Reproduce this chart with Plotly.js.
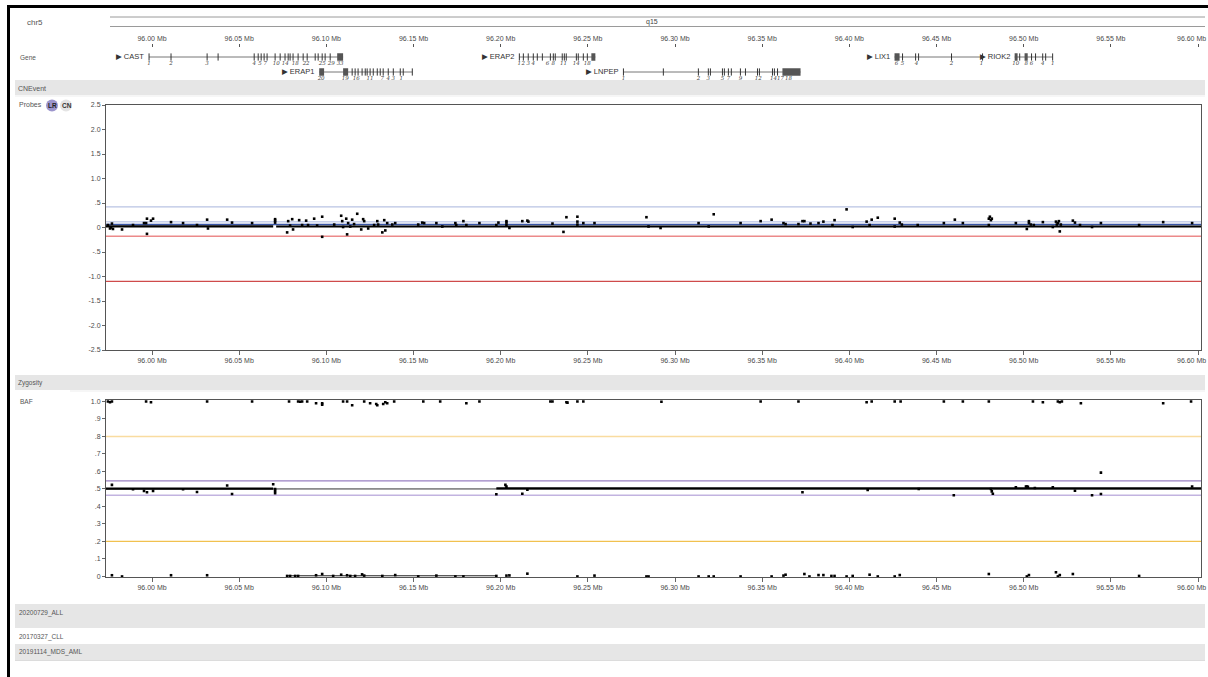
<!DOCTYPE html>
<html><head><meta charset="utf-8">
<script src="https://cdn.plot.ly/plotly-3.0.1.min.js"></script>
<style>html,body{margin:0;padding:0;background:#fff;}#chart{width:1208px;height:677px;}</style>
</head><body><div id="chart"></div><script>
// ---------- data ----------
const xRange = [95.9736, 96.6017];
const xTickVals = [96.00,96.05,96.10,96.15,96.20,96.25,96.30,96.35,96.40,96.45,96.50,96.55,96.60];
const xTickText = ["96.00 Mb","96.05 Mb","96.10 Mb","96.15 Mb","96.20 Mb","96.25 Mb","96.30 Mb","96.35 Mb","96.40 Mb","96.45 Mb","96.50 Mb","96.55 Mb","96.60 Mb"];
const lrTickVals = [2.5,2,1.5,1,0.5,0,-0.5,-1,-1.5,-2,-2.5];
const lrTickText = ["2.5","2.0","1.5","1.0",".5","0","-.5","-1.0","-1.5","-2.0","-2.5"];
const bafTickVals = [1,0.9,0.8,0.7,0.6,0.5,0.4,0.3,0.2,0.1,0];
const bafTickText = ["1.0",".9",".8",".7",".6",".5",".4",".3",".2",".1","0"];

const lrPos = [95.9747,95.9759,95.9765,95.9770,95.9776,95.9828,95.9891,95.9954,95.9966,95.9971,95.9971,95.9994,96.0006,96.0109,96.0178,96.0258,96.0316,96.0321,96.0431,96.0459,96.0574,96.0706,96.0706,96.0706,96.0775,96.0781,96.0792,96.0804,96.0809,96.0844,96.0861,96.0884,96.0895,96.0930,96.0947,96.0976,96.0976,96.1045,96.1085,96.1091,96.1096,96.1114,96.1119,96.1125,96.1137,96.1148,96.1159,96.1177,96.1200,96.1211,96.1217,96.1240,96.1274,96.1292,96.1297,96.1321,96.1332,96.1338,96.1349,96.1378,96.1395,96.1527,96.1550,96.1561,96.1631,96.1665,96.1740,96.1745,96.1786,96.1803,96.1878,96.1975,96.1987,96.2033,96.2033,96.2033,96.2050,96.2124,96.2153,96.2159,96.2297,96.2360,96.2377,96.2440,96.2440,96.2440,96.2474,96.2538,96.2836,96.2848,96.2917,96.3135,96.3193,96.3222,96.3376,96.3491,96.3554,96.3622,96.3634,96.3708,96.3731,96.3742,96.3777,96.3823,96.3851,96.3903,96.3915,96.3984,96.4019,96.4099,96.4116,96.4128,96.4163,96.4260,96.4260,96.4289,96.4301,96.4392,96.4542,96.4605,96.4651,96.4800,96.4800,96.4806,96.4812,96.4817,96.4955,96.5018,96.5030,96.5030,96.5041,96.5058,96.5110,96.5167,96.5185,96.5190,96.5196,96.5202,96.5207,96.5213,96.5282,96.5294,96.5323,96.5392,96.5443,96.5662,96.5800,96.5966];
const lrVal = [0.05,-0.02,0.00,0.08,-0.03,-0.04,0.05,0.09,0.09,0.18,-0.13,0.14,0.18,0.11,0.09,0.05,0.16,-0.02,0.16,0.10,0.09,0.17,0.14,0.10,-0.10,0.13,0.04,0.17,-0.04,0.15,0.05,0.14,0.05,0.18,0.04,0.22,-0.19,0.06,0.24,0.13,0.01,0.18,-0.14,0.09,0.02,0.16,0.07,0.28,-0.04,0.17,0.13,-0.02,0.05,0.13,0.06,-0.10,0.15,-0.06,0.09,0.06,0.09,0.06,0.10,0.09,0.09,0.02,0.09,0.05,0.13,0.05,0.09,0.05,0.10,0.13,0.10,0.05,-0.01,0.13,0.14,0.12,0.08,-0.09,0.21,0.22,0.12,0.06,0.09,0.09,0.21,0.02,-0.01,0.09,0.02,0.27,0.09,0.13,0.16,0.09,0.07,0.07,0.13,0.13,0.08,0.09,0.12,0.05,0.15,0.37,0.01,0.12,0.05,0.16,0.20,0.18,0.02,0.10,0.06,0.05,0.09,0.16,0.09,0.18,0.05,0.22,0.15,0.18,0.09,-0.03,0.13,0.09,0.06,0.05,0.11,0.01,0.12,0.06,0.09,0.13,-0.08,0.06,0.14,0.10,0.05,0.01,0.09,0.05,0.11,0.09];

const bafPos = [95.9747,95.9759,95.9770,95.9966,95.9994,96.0316,96.0574,96.0786,96.0838,96.0850,96.0861,96.0890,96.0941,96.0976,96.0976,96.1096,96.1119,96.1148,96.1217,96.1251,96.1286,96.1292,96.1326,96.1338,96.1349,96.1389,96.1556,96.1653,96.1803,96.1878,96.2285,96.2297,96.2377,96.2383,96.2440,96.2474,96.2922,96.3491,96.3708,96.4099,96.4128,96.4260,96.4294,96.4542,96.4651,96.4800,96.5053,96.5110,96.5196,96.5207,96.5219,96.5328,96.5800,96.5960,
 95.9770,95.9891,95.9954,95.9971,96.0006,96.0178,96.0258,96.0431,96.0459,96.0695,96.0706,96.0706,96.0706,96.1975,96.2027,96.2033,96.2124,96.2153,96.3731,96.4105,96.4398,96.4599,96.4812,96.4817,96.4823,96.4955,96.5013,96.5018,96.5024,96.5064,96.5167,96.5294,96.5392,96.5443,96.5443,96.5966,
 95.9770,95.9828,96.0109,96.0316,96.0775,96.0792,96.0821,96.0838,96.0941,96.0976,96.1039,96.1085,96.1119,96.1137,96.1165,96.1205,96.1217,96.1321,96.1395,96.1527,96.1631,96.1740,96.1786,96.1975,96.2033,96.2050,96.2153,96.2440,96.2538,96.2836,96.2848,96.3135,96.3193,96.3222,96.3376,96.3554,96.3622,96.3634,96.3742,96.3771,96.3823,96.3851,96.3897,96.3915,96.3984,96.4019,96.4116,96.4163,96.4260,96.4289,96.4800,96.5018,96.5030,96.5185,96.5196,96.5207,96.5282,96.5662];
const bafVal = [1.0,0.995,1.0,1.0,0.995,1.0,1.0,1.0,1.0,0.998,1.0,1.0,0.99,0.99,0.982,1.0,1.0,0.978,1.0,0.99,0.985,0.978,0.985,0.995,0.99,1.0,1.0,1.0,0.99,1.0,1.0,1.0,0.995,0.993,1.0,1.0,0.998,1.0,1.0,0.995,1.0,1.0,1.0,1.0,1.0,1.0,1.0,0.995,1.0,0.995,1.0,0.99,0.99,1.0,
 0.523,0.498,0.489,0.481,0.489,0.498,0.483,0.52,0.471,0.527,0.50,0.489,0.476,0.47,0.523,0.513,0.473,0.496,0.481,0.494,0.50,0.464,0.50,0.486,0.473,0.51,0.514,0.514,0.512,0.505,0.51,0.49,0.464,0.593,0.471,0.514,
 0.007,0.0,0.007,0.007,0.003,0.003,0.003,0.003,0.007,0.014,0.003,0.01,0.007,0.003,0.003,0.012,0.005,0.003,0.008,0.0,0.005,0.0,0.0,0.003,0.005,0.006,0.016,0.0,0.005,0.0,0.0,0.0,0.0,0.0,0.0,0.0,0.005,0.01,0.014,0.0,0.008,0.008,0.003,0.003,0.0,0.003,0.01,0.0,0.0,0.008,0.014,0.0,0.008,0.024,0.0,0.008,0.014,0.003];

const lrThreshVal = [0.42, 0.115, 0.06, -0.18, -1.1];
const bafThreshVal = [0.8, 0.546, 0.5, 0.464, 0.2];
const lrSegStart = [95.9736, 96.0712];
const lrSegEnd = [96.0695, 96.6017];
const lrSegVal = [0.025, 0.02];
const bafSegStart = [95.9736, 96.1975];
const bafSegEnd = [96.0695, 96.6017];
const bafSegVal = [0.502, 0.503];
const bafThinStart = [96.0775];
const bafThinEnd = [96.1975];
const bafThinVal = [0.004];

const geneName = ["CAST","ERAP1","ERAP2","LNPEP","LIX1","RIOK2"];
const geneRow = [1,2,1,2,1,1];
const geneStart = [95.9983,96.0959,96.2107,96.2704,96.4259,96.4948];
const geneEnd = [96.1096,96.1493,96.2543,96.3720,96.4764,96.5166];
const geneExons = [
 [95.9983,96.0109,96.0316,96.0379,96.0586,96.0609,96.0626,96.0643,96.0660,96.0706,96.0735,96.0763,96.0781,96.0792,96.0809,96.0838,96.0867,96.0890,96.0936,96.0953,96.0976,96.0993,96.1022],
 [96.1148,96.1165,96.1182,96.1205,96.1223,96.1234,96.1251,96.1269,96.1292,96.1309,96.1326,96.1355,96.1384,96.1424,96.1441,96.1493],
 [96.2107,96.2130,96.2158,96.2187,96.2210,96.2239,96.2285,96.2302,96.2313,96.2353,96.2365,96.2376,96.2434,96.2445,96.2474,96.2497],
 [96.2704,96.2933,96.3134,96.3191,96.3203,96.3272,96.3283,96.3306,96.3323,96.3375,96.3404,96.3473,96.3484,96.3559,96.3570,96.3588],
 [96.4305,96.4380,96.4397,96.4586,96.4764],
 [96.4977,96.5045,96.5068,96.5109,96.5126,96.5166]
];
const geneBoxes = [
 [[96.1062,96.1096]],
 [[96.0959,96.0987],[96.1096,96.1125]],
 [[96.2520,96.2543]],
 [[96.3616,96.3720]],
 [[96.4259,96.4288]],
 [[96.4948,96.4965],[96.5005,96.5023]]
];
const geneNumPos = [
 [95.9983,96.0109,96.0316,96.0586,96.0620,96.0649,96.0712,96.0764,96.0821,96.0884,96.0976,96.1028,96.1079],
 [96.0970,96.1108,96.1171,96.1251,96.1321,96.1355,96.1384,96.1430],
 [96.2107,96.2130,96.2158,96.2187,96.2268,96.2302,96.2360,96.2434,96.2497],
 [96.2704,96.3134,96.3191,96.3272,96.3306,96.3375,96.3478,96.3565,96.3605,96.3651],
 [96.4271,96.4305,96.4385,96.4586,96.4758],
 [96.4955,96.5015,96.5045,96.5109,96.5166]
];
const geneNumText = [
 ["1","2","3","4","5","7","10","14","18","22","25","29","33"],
 ["20","19","16","11","7","4","3","1"],
 ["1","2","3","4","6","8","11","14","18"],
 ["1","2","3","5","7","9","12","14","17","18"],
 ["6","5","4","2","1"],
 ["10","8","6","4","1"]
];
const sampleNames = ["20200729_ALL","20170327_CLL","20191114_MDS_AML"];

// ---------- drawing ----------
const W = 1208, H = 677;
const px = x => x / W, py = y => 1 - y / H;
const FONT = "Liberation Sans, Arial, DejaVu Sans, sans-serif";
const tf = {family: FONT, size: 7, color: "#4a4a4a"};

const traces = [];
function segTrace(s, e, v, xa, ya, color, width) {
  const x = [], y = [];
  s.forEach((a, i) => { x.push(a, e[i], null); y.push(v[i], v[i], null); });
  return {x, y, xaxis: xa, yaxis: ya, mode: "lines", line: {color, width}, hoverinfo: "skip", type: "scatter"};
}
traces.push(segTrace(lrSegStart, lrSegEnd, lrSegVal, "x", "y", "#000", 2.2));
traces.push(segTrace(bafSegStart, bafSegEnd, bafSegVal, "x2", "y2", "#000", 2.2));
traces.push(segTrace(bafThinStart, bafThinEnd, bafThinVal, "x2", "y2", "#222", 1));
traces.push({x: lrPos, y: lrVal, xaxis: "x", yaxis: "y", mode: "markers", type: "scatter",
  marker: {symbol: "square", size: 2.6, color: "#000"}});
traces.push({x: bafPos, y: bafVal, xaxis: "x2", yaxis: "y2", mode: "markers", type: "scatter",
  marker: {symbol: "square", size: 2.6, color: "#000"}});

// genes
const bbx = [], bby = [], ex = [], ey = [], nx = [], ny = [], nt = [];
const shapes = [], annotations = [];
geneName.forEach((g, i) => {
  const r = geneRow[i];
  bbx.push(geneStart[i], geneEnd[i], null); bby.push(r, r, null);
  geneExons[i].forEach(e => { ex.push(e, e, null); ey.push(r - 0.24, r + 0.24, null); });
  geneBoxes[i].forEach(b => shapes.push({type: "rect", xref: "x3", yref: "y3", x0: b[0], x1: b[1], y0: r - 0.25, y1: r + 0.25,
    fillcolor: "#555", line: {width: 0}}));
  geneNumPos[i].forEach((p, k) => { nx.push(p); ny.push(r + 0.42); nt.push(geneNumText[i][k]); });
  annotations.push({xref: "x3", yref: "y3", x: geneStart[i], y: r, xanchor: "right", yanchor: "middle", xshift: -3,
    text: "\u25B6 " + g, showarrow: false, font: {family: FONT, size: 7.5, color: "#333"}});
});
traces.push({x: bbx, y: bby, xaxis: "x3", yaxis: "y3", mode: "lines", line: {color: "#777", width: 1}, type: "scatter", hoverinfo: "skip"});
traces.push({x: ex, y: ey, xaxis: "x3", yaxis: "y3", mode: "lines", line: {color: "#333", width: 1}, type: "scatter", hoverinfo: "skip"});
traces.push({x: nx, y: ny, xaxis: "x3", yaxis: "y3", mode: "text", text: nt, type: "scatter",
  textfont: {family: "DejaVu Serif, serif", size: 5.5, color: "#444", style: "italic"}, hoverinfo: "skip"});

// thresholds
const lrThreshColor = ["#b9c3e3", "#a9b6df", "#3a56a6", "#ec8a8a", "#cf4b4b"];
const lrThreshWidth = [1.3, 1, 1.4, 1.4, 1.2];
lrThreshVal.forEach((v, i) => shapes.push({type: "line", xref: "x domain", yref: "y", x0: 0, x1: 1, y0: v, y1: v,
  line: {color: lrThreshColor[i], width: lrThreshWidth[i]}, layer: "below"}));
const bafThreshColor = ["#f9dca0", "#9a80c2", "#333333", "#c2b3e0", "#f1c14f"];
const bafThreshWidth = [1.4, 1.3, 1, 1.3, 1.3];
bafThreshVal.forEach((v, i) => shapes.push({type: "line", xref: "x2 domain", yref: "y2", x0: 0, x1: 1, y0: v, y1: v,
  line: {color: bafThreshColor[i], width: bafThreshWidth[i]}, layer: "below"}));

// page chrome
function rectPx(x0, y0, x1, y1, fill, lineColor) {
  shapes.push({type: "rect", xref: "paper", yref: "paper", x0: px(x0), x1: px(x1), y0: py(y1), y1: py(y0),
    fillcolor: fill, line: lineColor ? {color: lineColor, width: 1} : {width: 0}, layer: "below"});
}
function linePx(x0, y0, x1, y1, color, width) {
  shapes.push({type: "line", xref: "paper", yref: "paper", x0: px(x0), x1: px(x1), y0: py(y0), y1: py(y1),
    line: {color, width}});
}
function text(t, x, y, opts) {
  annotations.push(Object.assign({xref: "paper", yref: "paper", x: px(x), y: py(y), xanchor: "left", yanchor: "middle",
    text: t, showarrow: false, font: {family: FONT, size: 7, color: "#555"}}, opts || {}));
}
rectPx(7, 5, 10, 677, "#000");
rectPx(7, 5, 1208, 8, "#000");
linePx(110, 17, 1205, 17, "#9a9a9a", 1);
linePx(110, 26.5, 1205, 26.5, "#9a9a9a", 1);
text("chr5", 25, 22, {font: {family: FONT, size: 8, color: "#555"}});
text("q15", 652, 21.5, {xanchor: "center", font: {family: FONT, size: 7, color: "#444"}});
text("Gene", 18, 57, {font: {family: FONT, size: 6.5, color: "#555"}});
rectPx(15, 80, 1205, 95, "#e6e6e6"); linePx(15, 96, 1205, 96, "#ededed", 1);
text("CNEvent", 16, 88.5);
text("Probes", 17, 105);
shapes.push({type: "circle", xref: "paper", yref: "paper", x0: px(60), x1: px(72), y0: py(111.5), y1: py(99.5), fillcolor: "#e4e4e4", line: {width: 0}});
shapes.push({type: "circle", xref: "paper", yref: "paper", x0: px(46), x1: px(58), y0: py(111.5), y1: py(99.5), fillcolor: "#9c95cc", line: {width: 0}});
text("LR", 52, 105.5, {xanchor: "center", font: {family: FONT, size: 6.5, color: "#222", weight: 700}});
text("CN", 66.5, 105.5, {xanchor: "center", font: {family: FONT, size: 6.5, color: "#333", weight: 700}});
rectPx(15, 375, 1205, 390, "#e6e6e6"); linePx(70, 391, 1205, 391, "#ededed", 1);
text("Zygosity", 16, 383, {font: {family: FONT, size: 6.5, color: "#555"}});
text("BAF", 18, 401, {font: {family: FONT, size: 6.5, color: "#555"}});
rectPx(15, 604, 1205, 628, "#e6e6e6");
rectPx(15, 644, 1205, 660, "#e6e6e6");
linePx(15, 660.5, 1205, 660.5, "#dcdcdc", 1);
text(sampleNames[0], 17, 613, {font: {family: FONT, size: 6.5, color: "#555"}});
text(sampleNames[1], 17, 637, {font: {family: FONT, size: 6.5, color: "#555"}});
text(sampleNames[2], 17, 652, {font: {family: FONT, size: 6.5, color: "#555"}});

// last tick label of each position axis is right-aligned to stay inside the page
const nT = xTickText.length;
const shownText = xTickText.slice(0, nT - 1).concat([""]);
[[38.5], [360], [587.5]].forEach(([yy]) => text(xTickText[nT - 1], 1207.5, yy, {xanchor: "right", font: tf}));

const dom = [px(106), px(1201)];
const commonX = {domain: dom, range: xRange, tickvals: xTickVals, ticktext: shownText, ticks: "outside", ticklen: 4,
  tickcolor: "#666", showline: true, linecolor: "#555", linewidth: 1, mirror: true, showgrid: false, zeroline: false,
  tickfont: tf, fixedrange: true};
const commonY = {ticks: "outside", ticklen: 3, tickcolor: "#666", showline: true, linecolor: "#555", linewidth: 1,
  mirror: true, showgrid: false, zeroline: false, tickfont: tf, fixedrange: true};

const layout = {
  width: W, height: H, margin: {l: 0, r: 0, t: 0, b: 0}, showlegend: false,
  paper_bgcolor: "#fff", plot_bgcolor: "rgba(0,0,0,0)",
  xaxis: Object.assign({}, commonX, {anchor: "y"}),
  yaxis: Object.assign({}, commonY, {anchor: "x", domain: [py(350), py(105)], range: [-2.5, 2.5], tickvals: lrTickVals, ticktext: lrTickText}),
  xaxis2: Object.assign({}, commonX, {anchor: "y2"}),
  yaxis2: Object.assign({}, commonY, {anchor: "x2", domain: [py(577), py(399.5)], range: [-0.003, 1.011], tickvals: bafTickVals, ticktext: bafTickText}),
  xaxis3: Object.assign({}, commonX, {anchor: "y3", side: "top", showline: false, mirror: false, ticklen: 3, tickcolor: "#555"}),
  yaxis3: {anchor: "x3", domain: [py(80), py(48)], range: [2.533, 0.4], visible: false, fixedrange: true},
  shapes, annotations
};
Plotly.newPlot("chart", traces, layout, {displayModeBar: false, staticPlot: true});
</script></body></html>
